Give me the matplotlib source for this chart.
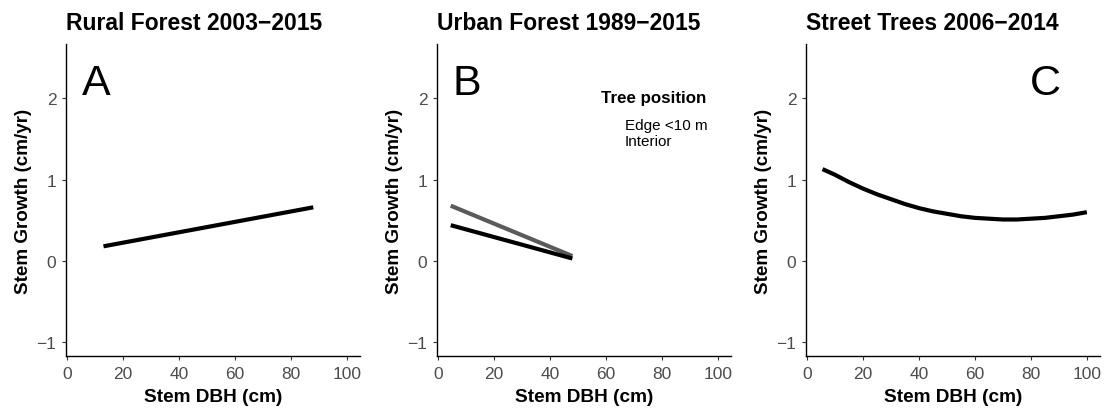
# Stem growth vs DBH for three forest types
import matplotlib.pyplot as plt

plt.rcParams['font.family'] = ['Liberation Sans', 'DejaVu Sans']

titles = ['Rural Forest 2003\u22122015', 'Urban Forest 1989\u22122015', 'Street Trees 2006\u22122014']
letters = ['A', 'B', 'C']
letter_x = [10.4, 10.4, 85]

rural_dbh = [13, 88]
rural_growth = [0.18, 0.66]

urban_dbh = [4.5, 48]
urban_edge = [0.68, 0.06]
urban_interior = [0.44, 0.03]

street_dbh = [5.5, 10, 15, 20, 25, 30, 35, 40, 45, 50, 55, 60, 65, 70, 75, 80, 85, 90, 95, 100]
street_growth = [1.13, 1.06, 0.97, 0.89, 0.82, 0.76, 0.70, 0.65, 0.61, 0.58, 0.55,
                 0.53, 0.52, 0.51, 0.51, 0.52, 0.53, 0.55, 0.57, 0.60]

legend_title = 'Tree position'
legend_labels = ['Edge <10 m', 'Interior']

fig = plt.figure(figsize=(11.04, 4.1), dpi=100)
lefts = [66 / 1104, 437 / 1104, 806 / 1104]
axes = [fig.add_axes([l, 1 - 357 / 410, 294 / 1104, 312 / 410]) for l in lefts]

axes[0].plot(rural_dbh, rural_growth, color='black', lw=3.0, solid_capstyle='butt')
axes[1].plot(urban_dbh, urban_edge, color='#5a5a5a', lw=3.0, solid_capstyle='butt')
axes[1].plot(urban_dbh, urban_interior, color='black', lw=3.0, solid_capstyle='butt')
axes[2].plot(street_dbh, street_growth, color='black', lw=3.0, solid_capstyle='butt')

for i, ax in enumerate(axes):
    ax.set_xlim(-0.4, 104.7)
    ax.set_ylim(-1.17, 2.67)
    ax.set_xticks([0, 20, 40, 60, 80, 100])
    ax.set_yticks([-1, 0, 1, 2])
    ax.spines['top'].set_visible(False)
    ax.spines['right'].set_visible(False)
    for s in ('left', 'bottom'):
        ax.spines[s].set_linewidth(1.0)
        ax.spines[s].set_color('black')
    ax.tick_params(length=3, width=0.8, color='#333333', labelcolor='#4d4d4d',
                   labelsize=12.5, pad=4)
    ax.set_xlabel('Stem DBH (cm)', fontsize=13.7, fontweight='bold', labelpad=5)
    ax.set_ylabel('Stem Growth (cm/yr)', fontsize=13.6, fontweight='bold', labelpad=3)
    ax.set_title(titles[i], fontsize=16.5, fontweight='bold', loc='left', pad=11)
    ax.text(letter_x[i], 2.19, letters[i], fontsize=31, ha='center', va='center')

axes[1].text(0.915, 0.827, legend_title, transform=axes[1].transAxes, fontsize=12.2,
             fontweight='bold', ha='right', va='center')
axes[1].text(0.639, 0.740, legend_labels[0], transform=axes[1].transAxes,
             fontsize=11, ha='left', va='center')
axes[1].text(0.639, 0.689, legend_labels[1], transform=axes[1].transAxes,
             fontsize=11, ha='left', va='center')

fig.savefig('out.png', dpi=100)
